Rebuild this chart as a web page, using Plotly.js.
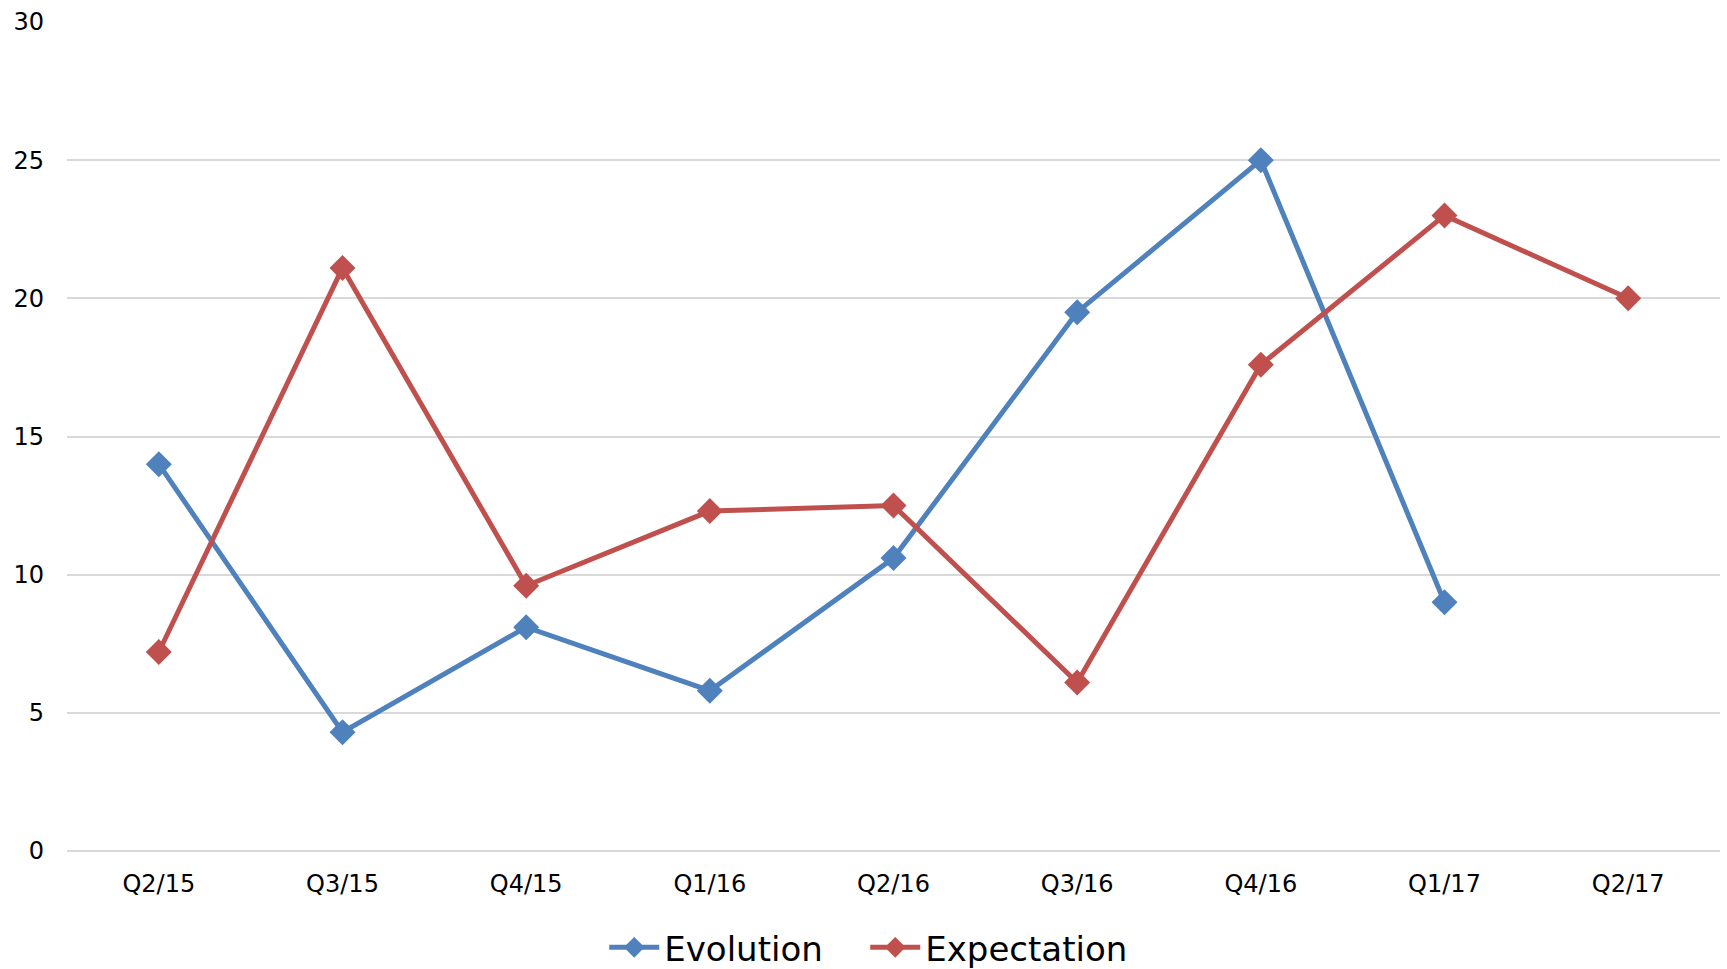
<!DOCTYPE html>
<html>
<head>
<meta charset="utf-8">
<script src="https://cdn.plot.ly/plotly-3.0.1.min.js"></script>
<style>html,body{margin:0;padding:0;background:#fff;}#chart{width:1727px;height:969px;}</style>
</head>
<body>
<div id="chart"></div>
<script>
const categories = ["Q2/15","Q3/15","Q4/15","Q1/16","Q2/16","Q3/16","Q4/16","Q1/17","Q2/17"];
const evolution = [14.0, 4.3, 8.1, 5.8, 10.6, 19.5, 25.0, 9.0, null];
const expectation = [7.2, 21.1, 9.6, 12.3, 12.5, 6.1, 17.6, 23.0, 20.0];
const yTicks = [0, 5, 10, 15, 20, 25, 30];

const font = "DejaVu Sans, sans-serif";
const traces = [
  {x: categories, y: evolution, name: "Evolution", type: "scatter", mode: "lines+markers",
   line: {color: "#4F81BD", width: 5}, marker: {symbol: "diamond", size: 20, color: "#4F81BD"}},
  {x: categories, y: expectation, name: "Expectation", type: "scatter", mode: "lines+markers",
   line: {color: "#C0504D", width: 5}, marker: {symbol: "diamond", size: 20, color: "#C0504D"}}
];
const layout = {
  width: 1727, height: 969,
  margin: {l: 67, r: 7, t: 22, b: 118},
  paper_bgcolor: "#fff", plot_bgcolor: "#fff",
  font: {family: font, color: "#000"},
  showlegend: true,
  legend: {orientation: "h", xref: "paper", x: 0.325, xanchor: "left",
           yref: "container", y: 0.022, yanchor: "middle",
           font: {family: font, size: 34, color: "#000"}, itemwidth: 50,
           entrywidth: 196},
  xaxis: {type: "category", range: [-0.5, 8.5], showgrid: false, zeroline: false,
          showline: false, ticks: "", tickfont: {family: font, size: 24, color: "#000"},
          ticklabelstandoff: 16},
  yaxis: {range: [0, 30], tickvals: yTicks, showgrid: true, gridcolor: "#D9D9D9", gridwidth: 2,
          zeroline: true, zerolinecolor: "#D9D9D9", zerolinewidth: 2, showline: false, ticks: "",
          tickfont: {family: font, size: 24, color: "#000"}, ticklabelstandoff: 22}
};
Plotly.newPlot("chart", traces, layout, {displayModeBar: false});
</script>
</body>
</html>
